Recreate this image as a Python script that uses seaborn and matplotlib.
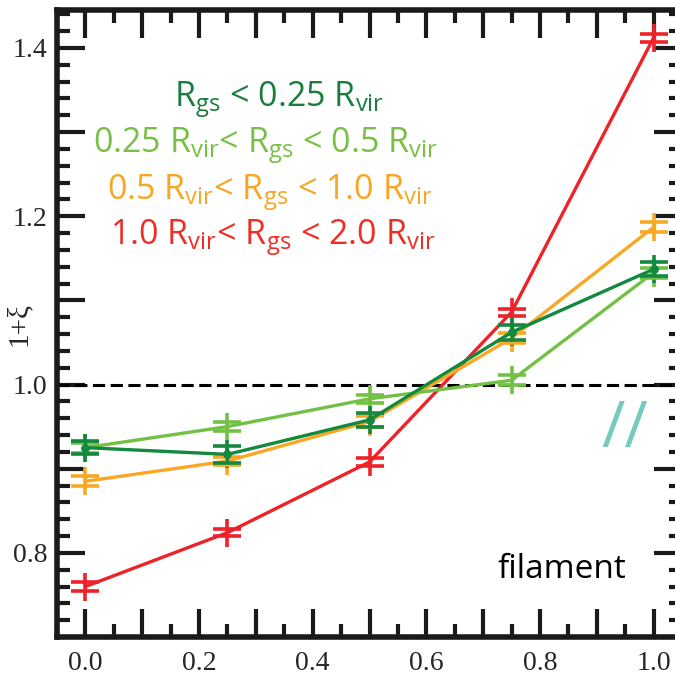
import matplotlib
matplotlib.use("Agg")
import matplotlib.pyplot as plt
import seaborn as sns
import pandas as pd
from matplotlib.ticker import MultipleLocator, FuncFormatter

# ---- data ----
x_vals = [0.0, 0.25, 0.5, 0.75, 1.0]
series_names = ["1.0-2.0", "0.5-1.0", "0.25-0.5", "<0.25"]
y_red = [0.760, 0.824, 0.908, 1.086, 1.412]
y_orange = [0.885, 0.909, 0.956, 1.055, 1.187]
y_light = [0.925, 0.950, 0.983, 1.005, 1.133]
y_dark = [0.925, 0.917, 0.958, 1.062, 1.137]
e_red = [0.005, 0.004, 0.005, 0.004, 0.005]
e_orange = [0.006, 0.005, 0.006, 0.006, 0.006]
e_light = [0.006, 0.005, 0.005, 0.006, 0.006]
e_dark = [0.008, 0.010, 0.008, 0.009, 0.008]
legend_labels = [
    r"R$_{\rm gs}$ < 0.25 R$_{\rm vir}$",
    r"0.25 R$_{\rm vir}$< R$_{\rm gs}$ < 0.5 R$_{\rm vir}$",
    r"0.5 R$_{\rm vir}$< R$_{\rm gs}$ < 1.0 R$_{\rm vir}$",
    r"1.0 R$_{\rm vir}$< R$_{\rm gs}$ < 2.0 R$_{\rm vir}$",
]
xtick_step = 0.1
ytick_step = 0.1

colors = {"1.0-2.0": "#ee2229", "0.5-1.0": "#f9a825",
          "0.25-0.5": "#72c044", "<0.25": "#12893e"}
text_colors = ["#1a7d3c", "#78c043", "#f8a522", "#ee2e24"]

sns.set_theme(style="ticks")
plt.rcParams["font.family"] = ["Liberation Serif", "DejaVu Serif"]
plt.rcParams["mathtext.fontset"] = "custom"
plt.rcParams["mathtext.rm"] = "Open Sans"
plt.rcParams["mathtext.it"] = "Open Sans"

ys = {"1.0-2.0": y_red, "0.5-1.0": y_orange, "0.25-0.5": y_light, "<0.25": y_dark}
es = {"1.0-2.0": e_red, "0.5-1.0": e_orange, "0.25-0.5": e_light, "<0.25": e_dark}
rows = []
for s in series_names:
    for xv, yv, ev in zip(x_vals, ys[s], es[s]):
        rows.append({"x": xv, "y": yv, "err": ev, "series": s})
df = pd.DataFrame(rows)

fig = plt.figure(figsize=(6.75, 6.8), dpi=100)
ax = fig.add_axes([57 / 675, 1 - 637 / 680, (682 - 57) / 675, (637 - 10) / 680])

ax.axhline(1.0, color="black", lw=2.2, ls=(0, (4, 1.8)), zorder=1)

for s in series_names:
    d = df[df["series"] == s]
    c = colors[s]
    sns.lineplot(data=d, x="x", y="y", color=c, lw=2.4, ax=ax, legend=False,
                 sort=False, errorbar=None)
    ax.errorbar(d["x"], d["y"], yerr=d["err"], fmt="none", ecolor=c,
                elinewidth=2.4, capsize=10, capthick=2.6)
    sns.scatterplot(data=d, x="x", y="y", marker="|", s=420, color=c,
                    linewidth=2.6, ax=ax, legend=False)
    if s == "<0.25":
        sns.scatterplot(data=d, x="x", y="y", marker="o", s=40, color=c,
                        edgecolor=c, linewidth=0, ax=ax, legend=False, zorder=5)

ax.set_xlim(-0.05, 1.05)
ax.set_ylim(0.70, 1.445)
ax.set_xlabel("")
ax.set_ylabel("1+ξ", fontsize=21, family=["Liberation Serif", "DejaVu Serif"])
ax.yaxis.set_label_coords(-0.04, 0.5)

def fmt(v, p):
    k = round(v / 0.2)
    if abs(k * 0.2 - v) < 1e-6:
        return f"{v:.1f}"
    return ""

ax.xaxis.set_major_locator(MultipleLocator(xtick_step))
ax.xaxis.set_minor_locator(MultipleLocator(0.05))
ax.yaxis.set_major_locator(MultipleLocator(ytick_step))
ax.yaxis.set_minor_locator(MultipleLocator(0.02))
ax.xaxis.set_major_formatter(FuncFormatter(fmt))
ax.yaxis.set_major_formatter(FuncFormatter(fmt))

ax.tick_params(which="both", direction="in", top=True, right=True,
               color="#1a1a1a", labelsize=20)
ax.tick_params(which="major", length=20, width=3)
ax.tick_params(which="minor", length=9.5, width=3)
ax.tick_params(axis="x", pad=10)
ax.tick_params(axis="y", pad=7)
for sp in ax.spines.values():
    sp.set_linewidth(4)
    sp.set_color("#1a1a1a")

# annotation texts (positions in axes fraction)
lx = [0.355, 0.333, 0.341, 0.346]
ly = [0.845, 0.772, 0.697, 0.625]
for t, c, xx, yy in zip(legend_labels, text_colors, lx, ly):
    ax.text(xx, yy, t, color=c, fontsize=24.5, family="Open Sans",
            ha="center", va="baseline", transform=ax.transAxes)

ax.text(0.808, 0.107, "filament", fontsize=24, family="Open Sans",
        color="black", ha="center", va="center", transform=ax.transAxes)
ax.text(0.909, 0.330, "//", fontsize=46, family="Open Sans", color="#74cbbd",
        ha="center", va="center", transform=ax.transAxes)

fig.savefig("out.png", dpi=100)
